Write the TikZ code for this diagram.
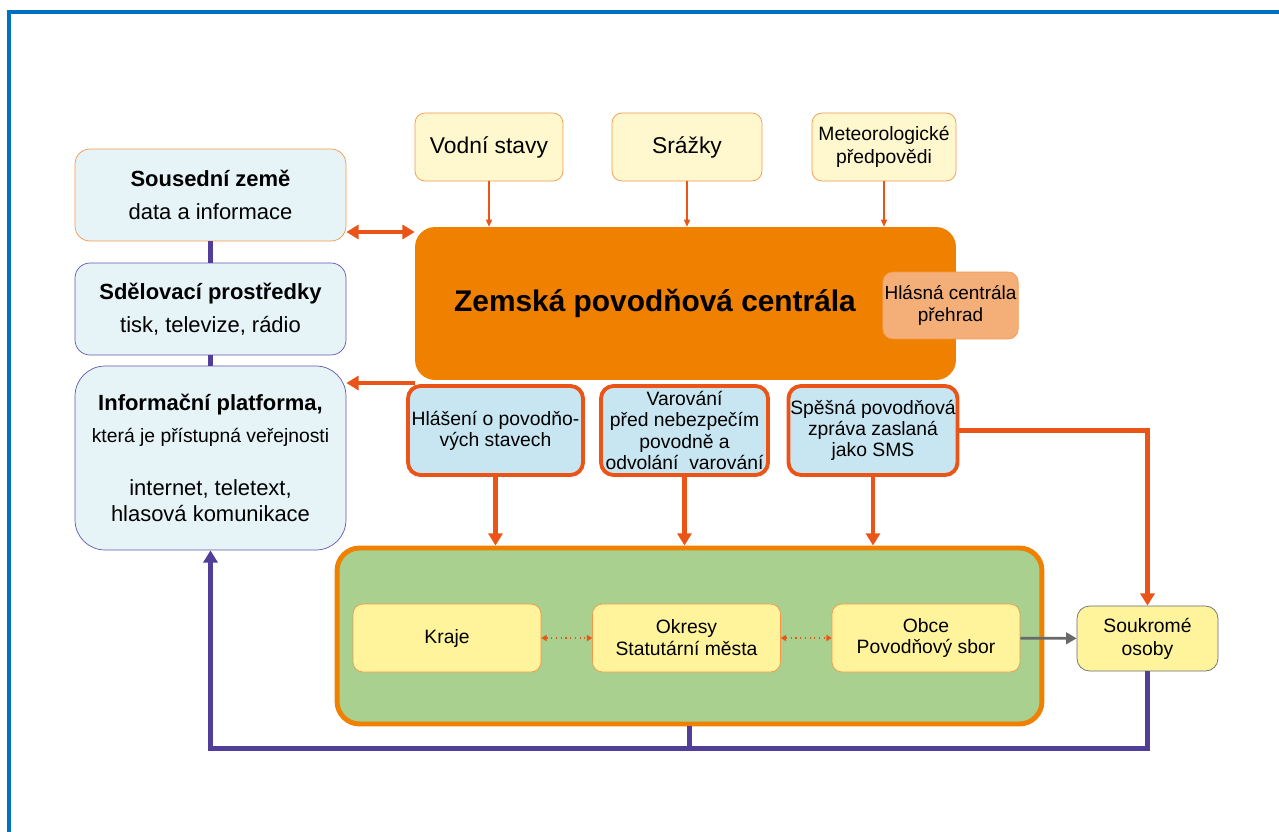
\documentclass[tikz,border=0pt]{standalone}
\usepackage{fontspec}
\setmainfont{Liberation Sans}
\usetikzlibrary{arrows.meta}
\definecolor{frameblue}{RGB}{0,112,192}
\definecolor{centralorange}{RGB}{239,128,0}
\definecolor{arrowred}{RGB}{234,84,22}
\definecolor{lineorange}{RGB}{247,150,70}
\definecolor{linepurple}{RGB}{80,62,152}
\definecolor{boxpurple}{RGB}{96,86,176}
\definecolor{paleblue}{RGB}{230,244,248}
\definecolor{msgblue}{RGB}{200,230,242}
\definecolor{paleyellow}{RGB}{255,248,206}
\definecolor{unityellow}{RGB}{255,244,156}
\definecolor{regiongreen}{RGB}{169,208,142}
\definecolor{damorange}{RGB}{244,174,120}
\definecolor{linegray}{RGB}{105,105,105}

\tikzset{
  box/.style={draw, rounded corners=0.3cm, align=center, inner sep=1pt},
  infobox/.style={box, fill=paleblue, minimum width=5.42cm, minimum height=1.84cm,
    font=\fontsize{12.5}{15}\selectfont},
  inputbox/.style={box, draw=lineorange, fill=paleyellow, rounded corners=0.2cm,
    minimum height=1.36cm},
  msgbox/.style={box, draw=arrowred, line width=2.2pt, fill=msgblue, rounded corners=0.25cm,
    minimum height=1.78cm, font=\fontsize{11}{12}\selectfont},
  unitbox/.style={box, draw=lineorange, fill=unityellow, rounded corners=0.2cm,
    minimum width=3.76cm, minimum height=1.36cm, font=\fontsize{11}{12.5}\selectfont},
  bigarrow/.style={draw=arrowred, line width=2.6pt, >={Triangle[length=7pt,width=8pt]}},
  thinarrow/.style={draw=arrowred, line width=0.7pt, -{Triangle[length=4pt,width=3.5pt]}},
  dotarrow/.style={draw=arrowred, dotted, line width=0.7pt,
    {Triangle[length=3pt,width=3.5pt]}-{Triangle[length=3pt,width=3.5pt]}},
  grayarrow/.style={draw=linegray, line width=1.5pt, -{Triangle[length=6pt,width=6.5pt]}},
  feedback/.style={draw=linepurple, line width=2.8pt}
}

\begin{document}
\begin{tikzpicture}[x=0.02cm, y=-0.02cm]
  \useasboundingbox (0,0) rectangle (1279,832);
  \draw[frameblue, line width=2pt] (9,832) -- (9,12) -- (1279,12);

  \node[infobox, draw=lineorange] (neigh) at (210.5,195) {{\bfseries Sousední země}\\[4pt] data a informace};
  \node[infobox, draw=boxpurple] (media) at (210.5,309) {{\bfseries Sdělovací prostředky}\\[4pt] tisk, televize, rádio};
  \node[infobox, draw=boxpurple, minimum height=3.68cm, rounded corners=0.6cm] (platform) at (210.5,458)
    {{\bfseries Informační platforma,}\\[3pt] {\fontsize{11}{13}\selectfont která je přístupná veřejnosti}\\[15pt]
     internet, teletext,\\ hlasová komunikace};

  \node[inputbox, minimum width=2.96cm, font=\fontsize{13}{15}\selectfont] (water) at (489,147) {Vodní stavy};
  \node[inputbox, minimum width=3cm, font=\fontsize{13}{15}\selectfont] (rain) at (687,147) {Srážky};
  \node[inputbox, minimum width=2.88cm, font=\fontsize{11}{13}\selectfont] (meteo) at (884,147) {Meteorologické\\předpovědi};

  \node[fill=centralorange, rounded corners=0.4cm, minimum width=10.82cm, minimum height=3.06cm,
    font=\fontsize{17}{20}\selectfont\bfseries] (central) at (685.5,303.5) {Zemská povodňová centrála\hspace*{1.22cm}};
  \node[box, draw=lineorange, fill=damorange, rounded corners=0.2cm, minimum width=2.7cm, minimum height=1.34cm,
    font=\fontsize{10.8}{13}\selectfont] (dams) at (950.5,305.5) {Hlásná centrála\\přehrad};

  \node[msgbox, minimum width=3.5cm] (report) at (495.5,430.5) {Hlášení o povodňo-\\vých stavech};
  \node[msgbox, minimum width=3.34cm] (warning) at (684.5,430.5) {Varování\\před nebezpečím\\povodně a\\odvolání~ varování};
  \node[msgbox, minimum width=3.36cm] (sms) at (873,430.5) {Spěšná povodňová\\zpráva zaslaná\\jako SMS};

  \node[draw=centralorange, line width=2.8pt, fill=regiongreen, rounded corners=0.45cm,
    minimum width=14.1cm, minimum height=3.52cm] (region) at (689.5,636) {};
  \node[unitbox] (kraje) at (447,638) {Kraje};
  \node[unitbox] (okresy) at (686.5,638) {Okresy\\Statutární města};
  \node[unitbox] (obce) at (926,638) {Obce\\Povodňový sbor};
  \node[box, draw=linegray, fill=unityellow, rounded corners=0.25cm, minimum width=2.82cm, minimum height=1.3cm,
    font=\fontsize{11}{13}\selectfont] (private) at (1147.5,638.5) {Soukromé\\osoby};

  \foreach \src in {water,rain,meteo}
    \draw[thinarrow] (\src.south) -- (\src.south |- central.north);
  \draw[bigarrow, <->] ([yshift=-0.74cm]neigh.east) -- ([yshift=-0.74cm]neigh.east -| central.west);
  \draw[bigarrow, <-] ([yshift=1.5cm]platform.east) -- ([yshift=1.5cm]platform.east -| central.west);
  \foreach \src in {report,warning,sms}
    \draw[bigarrow, ->] (\src.south) -- (\src.south |- region.north);
  \draw[bigarrow, ->] (sms.east) -| (private.north);
  \draw[dotarrow] (kraje) -- (okresy);
  \draw[dotarrow] (okresy) -- (obce);
  \draw[grayarrow] (obce) -- (private);

  \draw[feedback] (neigh) -- (media);
  \draw[feedback] (media) -- (platform);
  \draw[feedback, -{Triangle[length=7pt,width=8pt]}] (private.south) |- ([yshift=-0.44cm]region.south) -| (platform.south);
  \draw[feedback] (region.south) -- ++(0,23.5);
\end{tikzpicture}
\end{document}
